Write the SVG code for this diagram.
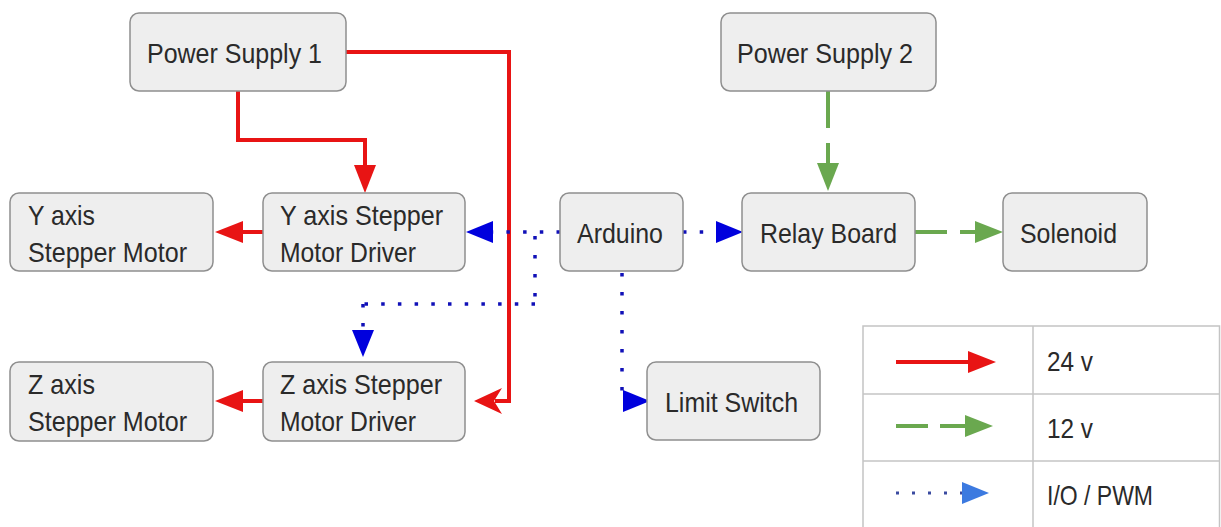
<svg xmlns="http://www.w3.org/2000/svg" width="1221" height="527" viewBox="0 0 1221 527">
<style>
.box{fill:#eeeeee;stroke:#8f8f8f;stroke-width:1.5}
.t{font-family:"Liberation Sans",Arial,sans-serif;font-size:28px;fill:#2a2a2a}
.red{fill:none;stroke:#e81414;stroke-width:4}
.green{fill:none;stroke:#6aa84f;stroke-width:4;stroke-dasharray:34 13}
.blueh{fill:none;stroke:#1010b8;stroke-width:3.5;stroke-dasharray:3.5 13.2}
.bluev{fill:none;stroke:#1010b8;stroke-width:3.5;stroke-dasharray:3.5 15.5}
.grid{fill:none;stroke:#c4c4c4;stroke-width:1.5}
</style>
<defs>
<marker id="ar" markerUnits="userSpaceOnUse" viewBox="0 0 28 22" refX="0" refY="11" markerWidth="28" markerHeight="22" orient="auto"><path d="M0,0 L28,11 L0,22 z" fill="#e81414"/></marker>
<marker id="arn" markerUnits="userSpaceOnUse" viewBox="0 0 28 26" refX="7" refY="13" markerWidth="28" markerHeight="26" orient="auto"><path d="M0,0 L28,13 L0,26 L8,13 z" fill="#e81414"/></marker>
<marker id="ag" markerUnits="userSpaceOnUse" viewBox="0 0 28 22" refX="0" refY="11" markerWidth="28" markerHeight="22" orient="auto"><path d="M0,0 L28,11 L0,22 z" fill="#6aa84f"/></marker>
<marker id="ab" markerUnits="userSpaceOnUse" viewBox="0 0 27 22" refX="0" refY="11" markerWidth="27" markerHeight="22" orient="auto"><path d="M0,0 L27,11 L0,22 z" fill="#0000dd"/></marker>
<marker id="abl" markerUnits="userSpaceOnUse" viewBox="0 0 27 22" refX="0" refY="11" markerWidth="27" markerHeight="22" orient="auto"><path d="M0,0 L27,11 L0,22 z" fill="#3c7ae0"/></marker>
</defs>

<g id="connectors">
<path class="red" d="M238,91 V140 H365 V165" marker-end="url(#ar)"/>
<path class="red" d="M346,52 H509 V401 H495" marker-end="url(#arn)"/>
<path class="red" d="M263,232 H243" marker-end="url(#ar)"/>
<path class="red" d="M263,401 H243" marker-end="url(#ar)"/>
<path class="green" d="M828,91 V163" style="stroke-dasharray:37 15" marker-end="url(#ag)"/>
<path class="green" d="M915,232 H975" style="stroke-dasharray:32 13" marker-end="url(#ag)"/>
<path class="blueh" d="M560,232 H493" marker-end="url(#ab)"/>
<path class="bluev" d="M535,236 V304"/>
<path class="blueh" d="M535,304 H363"/>
<path class="bluev" d="M363,304 V330" marker-end="url(#ab)"/>
<path class="blueh" d="M683,232 H716" marker-end="url(#ab)"/>
<path class="bluev" d="M622,273 V401 H623" marker-end="url(#ab)"/>
</g>

<g id="ps1"><rect class="box" x="130" y="13" width="216" height="78" rx="9"/><text class="t" x="147" y="63" textLength="175" lengthAdjust="spacingAndGlyphs">Power Supply 1</text></g>
<g id="ps2"><rect class="box" x="721" y="13" width="215" height="78" rx="9"/><text class="t" x="737" y="63" textLength="176" lengthAdjust="spacingAndGlyphs">Power Supply 2</text></g>
<g id="ymotor"><rect class="box" x="10" y="193" width="203" height="78" rx="9"/><text class="t" x="28" y="225" textLength="67" lengthAdjust="spacingAndGlyphs">Y axis</text><text class="t" x="28" y="262" textLength="159" lengthAdjust="spacingAndGlyphs">Stepper Motor</text></g>
<g id="ydriver"><rect class="box" x="263" y="193" width="202" height="78" rx="9"/><text class="t" x="280" y="225" textLength="163" lengthAdjust="spacingAndGlyphs">Y axis Stepper</text><text class="t" x="280" y="262" textLength="136" lengthAdjust="spacingAndGlyphs">Motor Driver</text></g>
<g id="zmotor"><rect class="box" x="10" y="362" width="203" height="79" rx="9"/><text class="t" x="28" y="394" textLength="67" lengthAdjust="spacingAndGlyphs">Z axis</text><text class="t" x="28" y="431" textLength="159" lengthAdjust="spacingAndGlyphs">Stepper Motor</text></g>
<g id="zdriver"><rect class="box" x="263" y="362" width="202" height="79" rx="9"/><text class="t" x="280" y="394" textLength="162" lengthAdjust="spacingAndGlyphs">Z axis Stepper</text><text class="t" x="280" y="431" textLength="136" lengthAdjust="spacingAndGlyphs">Motor Driver</text></g>
<g id="arduino"><rect class="box" x="560" y="193" width="123" height="78" rx="9"/><text class="t" x="577" y="243" textLength="86" lengthAdjust="spacingAndGlyphs">Arduino</text></g>
<g id="relay"><rect class="box" x="742" y="193" width="173" height="78" rx="9"/><text class="t" x="760" y="243" textLength="137" lengthAdjust="spacingAndGlyphs">Relay Board</text></g>
<g id="solenoid"><rect class="box" x="1003" y="193" width="144" height="78" rx="9"/><text class="t" x="1020" y="243" textLength="97" lengthAdjust="spacingAndGlyphs">Solenoid</text></g>
<g id="limit"><rect class="box" x="647" y="362" width="173" height="78" rx="9"/><text class="t" x="665" y="412" textLength="133" lengthAdjust="spacingAndGlyphs">Limit Switch</text></g>

<g id="legend">
<rect x="863" y="326" width="356.5" height="210" fill="#ffffff" class="grid"/>
<line class="grid" x1="863" y1="394" x2="1219.5" y2="394"/>
<line class="grid" x1="863" y1="461" x2="1219.5" y2="461"/>
<line class="grid" x1="1033" y1="326" x2="1033" y2="527"/>
<path class="red" d="M896,362 H968" marker-end="url(#ar)"/>
<path class="green" d="M896,426 H965" style="stroke-dasharray:32 12" marker-end="url(#ag)"/>
<path class="blueh" d="M896,493 H962" style="stroke:#3a4aa0;stroke-width:3;stroke-dasharray:3 13" marker-end="url(#abl)"/>
<text class="t" x="1047" y="371" textLength="46" lengthAdjust="spacingAndGlyphs">24 v</text>
<text class="t" x="1047" y="438" textLength="46" lengthAdjust="spacingAndGlyphs">12 v</text>
<text class="t" x="1047" y="505" textLength="106" lengthAdjust="spacingAndGlyphs">I/O / PWM</text>
</g>
</svg>
